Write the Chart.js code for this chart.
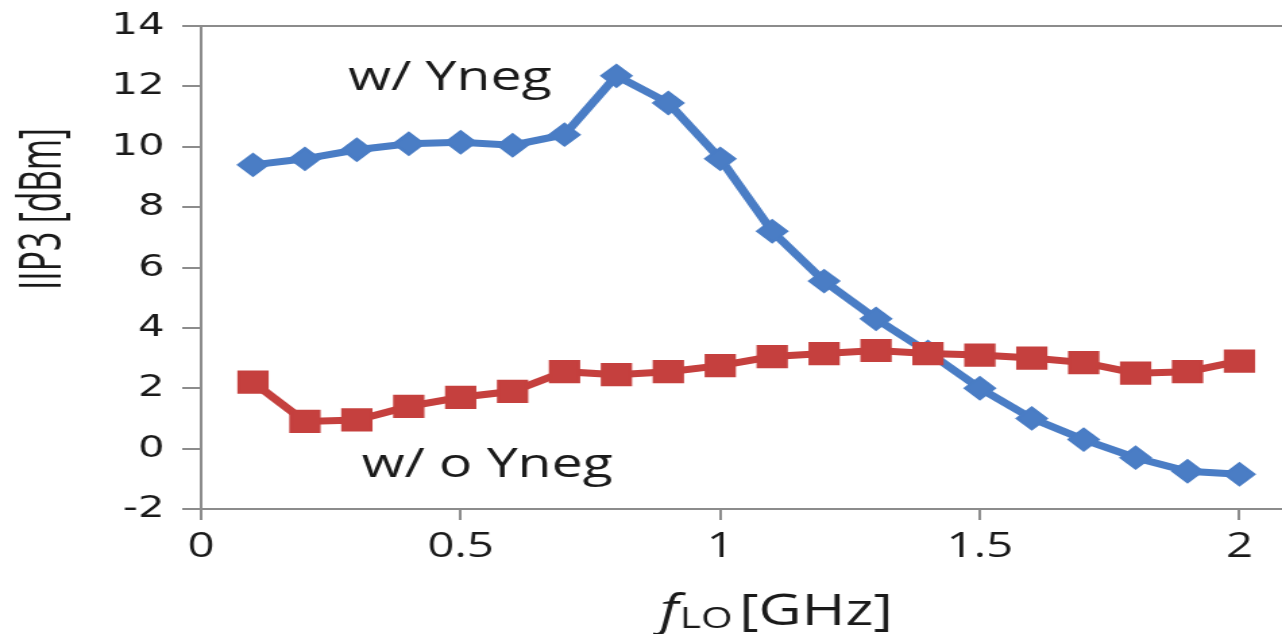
<!DOCTYPE html>
<html>
<head>
<meta charset="utf-8">
<script src="https://cdn.jsdelivr.net/npm/chart.js@4.4.0/dist/chart.umd.min.js"></script>
<style>
  html, body { margin: 0; padding: 0; background: #fff; overflow: hidden; }
  /* the source picture is stretched sideways, so the canvas is too */
  #iip3 { display: block; transform: scaleX(1.3495); transform-origin: 0 0; }
</style>
</head>
<body>
<canvas id="iip3" width="950" height="634"></canvas>
<script>
const freqGHz = [0.1, 0.2, 0.3, 0.4, 0.5, 0.6, 0.7, 0.8, 0.9, 1.0,
  1.1, 1.2, 1.3, 1.4, 1.5, 1.6, 1.7, 1.8, 1.9, 2.0];
const withYneg = [9.4, 9.6, 9.9, 10.1, 10.15, 10.05, 10.4, 12.35, 11.45, 9.6,
  7.2, 5.55, 4.3, 3.2, 2.0, 1.0, 0.3, -0.3, -0.75, -0.85];
const withoutYneg = [2.2, 0.9, 0.95, 1.4, 1.7, 1.9, 2.55, 2.45, 2.55, 2.75,
  3.05, 3.15, 3.25, 3.15, 3.1, 3.0, 2.85, 2.5, 2.55, 2.9];
const xTicks = [0, 0.5, 1, 1.5, 2];
const xTickLabels = ['0', '0.5', '1', '1.5', '2'];
const yTicks = [-2, 0, 2, 4, 6, 8, 10, 12, 14];

const blue = '#4A7DC5';
const red = '#C5403E';
const axisGray = '#8c8c8c';
const textColor = '#1a1a1a';

const toPoints = (ys) => freqGHz.map((x, i) => ({ x: x, y: ys[i] }));

// curve labels and the two axis titles
const labelsPlugin = {
  id: 'labels',
  afterDraw(chart) {
    const ctx = chart.ctx;
    const xs = chart.scales.x;
    const ys = chart.scales.y;
    ctx.save();
    ctx.fillStyle = textColor;
    ctx.textBaseline = 'alphabetic';
    ctx.textAlign = 'left';
    ctx.font = '41px "Open Sans"';
    ctx.fillText('w/ Yneg', xs.getPixelForValue(0.283), ys.getPixelForValue(11.88));
    ctx.fillText('w/ o Yneg', xs.getPixelForValue(0.309), ys.getPixelForValue(-0.93));

    // x title: f (italic) + LO subscript + [GHz]
    let px = 489;
    const base = 625;
    ctx.font = 'italic 44px "Open Sans"';
    ctx.fillText('f', px, base);
    px += ctx.measureText('f').width + 1;
    ctx.font = '30px "Open Sans"';
    ctx.fillText('LO', px, base + 3);
    px += ctx.measureText('LO').width + 5;
    ctx.font = '44px "Open Sans"';
    ctx.fillText('[GHz]', px, base);

    // y title, rotated and squeezed to the source length
    ctx.translate(32, 209);
    ctx.rotate(-Math.PI / 2);
    ctx.textAlign = 'center';
    ctx.textBaseline = 'middle';
    ctx.font = '44px "Open Sans"';
    ctx.fillText('IIP3 [dBm]', 0, 0, 162);
    ctx.restore();
  }
};

new Chart(document.getElementById('iip3'), {
  type: 'line',
  data: {
    datasets: [{
      label: 'w/ Yneg',
      data: toPoints(withYneg),
      borderColor: blue,
      backgroundColor: blue,
      borderWidth: 7,
      pointStyle: 'rectRot',
      pointRadius: 11,
      pointBorderWidth: 2,
      pointBorderColor: blue,
      pointBackgroundColor: blue,
      order: 1
    }, {
      label: 'w/ o Yneg',
      data: toPoints(withoutYneg),
      borderColor: red,
      backgroundColor: red,
      borderWidth: 7,
      pointStyle: 'rect',
      pointRadius: 15,
      pointBorderWidth: 2,
      pointBorderColor: red,
      pointBackgroundColor: red,
      order: 0
    }]
  },
  options: {
    responsive: false,
    animation: false,
    devicePixelRatio: 1,
    layout: { autoPadding: false, padding: { top: 26, right: 0, bottom: 0, left: 0 } },
    plugins: { legend: { display: false }, tooltip: { enabled: false } },
    scales: {
      x: {
        type: 'linear',
        min: 0,
        max: 2.082,
        afterBuildTicks: (scale) => {
          scale.ticks = xTicks.map((v) => ({ value: v }));
        },
        afterFit: (scale) => {
          scale.height = 125;
          scale.paddingLeft = 0;
          scale.paddingRight = 0;
        },
        border: { display: true, color: axisGray, width: 2 },
        grid: { color: 'transparent', tickColor: axisGray, tickLength: 11, lineWidth: 2 },
        ticks: {
          color: textColor,
          padding: 6,
          maxRotation: 0,
          callback: (v, i) => xTickLabels[i],
          font: { family: '"Open Sans"', size: 35 }
        }
      },
      y: {
        min: -2,
        max: 14,
        afterBuildTicks: (scale) => {
          scale.ticks = yTicks.map((v) => ({ value: v }));
        },
        afterFit: (scale) => {
          scale.width = 149;
          scale.paddingTop = 0;
          scale.paddingBottom = 0;
        },
        border: { display: true, color: axisGray, width: 2 },
        grid: {
          color: (c) => (c.tick && c.tick.value === 14 ? axisGray : 'transparent'),
          tickColor: axisGray,
          tickLength: 14,
          lineWidth: 2
        },
        ticks: {
          color: textColor,
          padding: 13,
          font: { family: '"DejaVu Sans"', size: 31 }
        }
      }
    }
  },
  plugins: [labelsPlugin]
});
</script>
</body>
</html>
